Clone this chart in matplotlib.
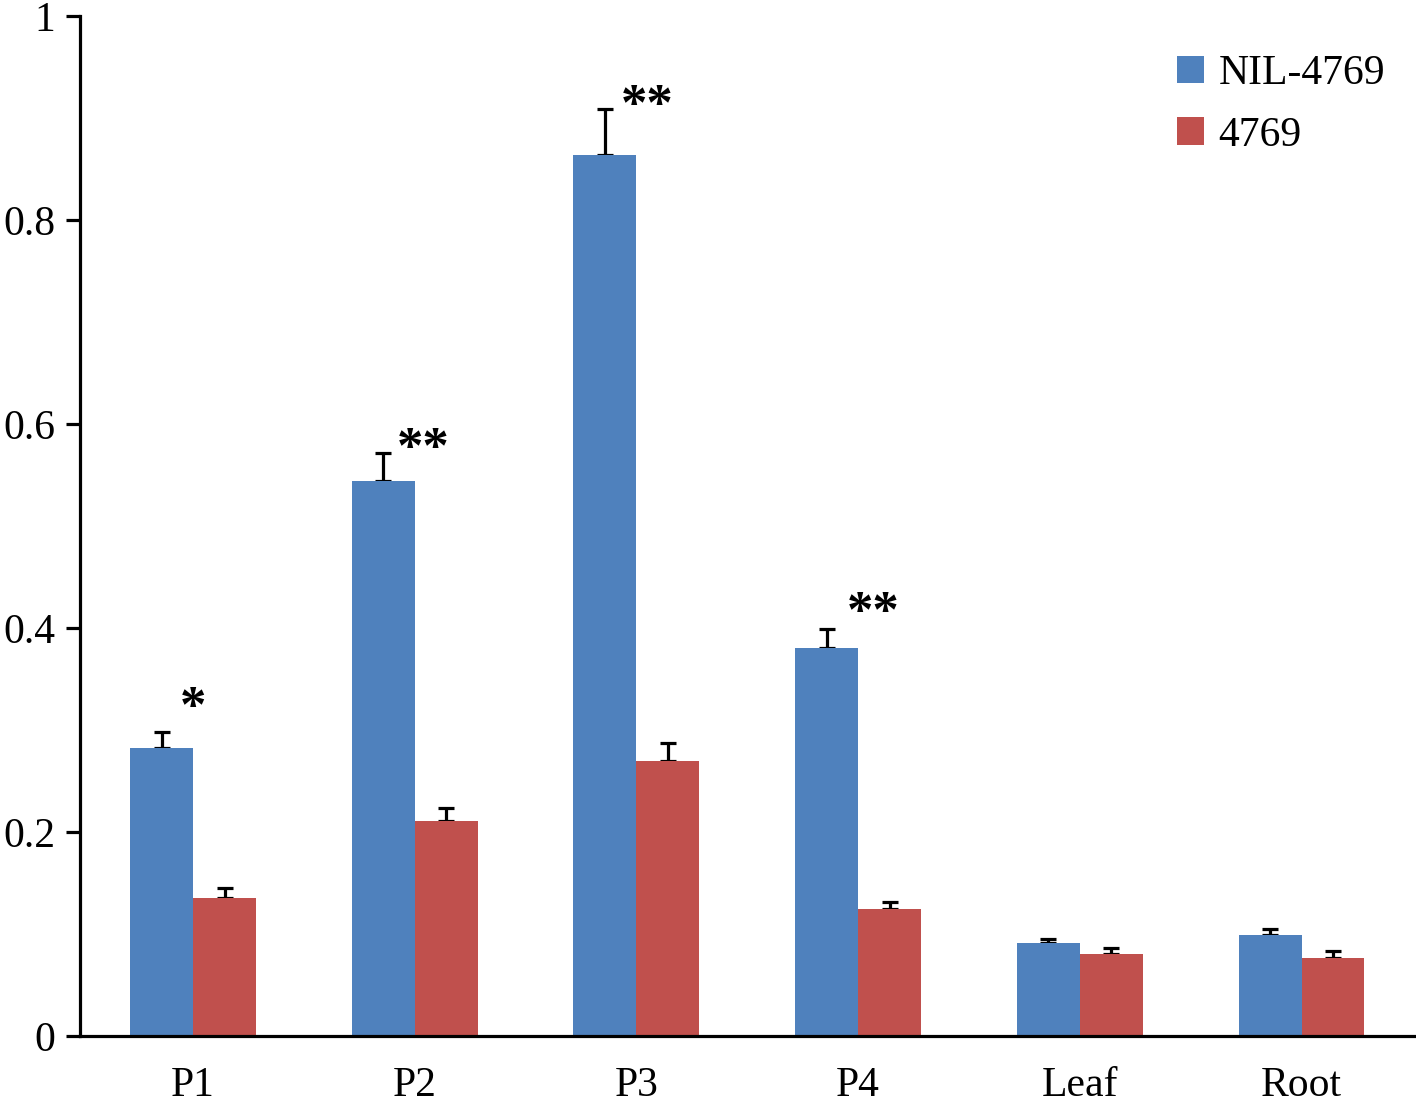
import matplotlib
matplotlib.use("Agg")
import matplotlib.pyplot as plt
import numpy as np

categories = ["P1", "P2", "P3", "P4", "Leaf", "Root"]
nil_values = [0.282, 0.544, 0.864, 0.380, 0.091, 0.099]
nil_err = [0.016, 0.028, 0.045, 0.019, 0.004, 0.006]
wt_values = [0.135, 0.211, 0.270, 0.125, 0.080, 0.077]
wt_err = [0.010, 0.013, 0.017, 0.006, 0.006, 0.006]
series_names = ["NIL-4769", "4769"]
sig_marks = ["*", "**", "**", "**", "", ""]
sig_heights = [0.321, 0.575, 0.911, 0.414, 0, 0]
yticks = [0, 0.2, 0.4, 0.6, 0.8, 1.0]
ytick_labels = ["0", "0.2", "0.4", "0.6", "0.8", "1"]

plt.rcParams['font.family'] = ['Liberation Serif', 'DejaVu Serif']

fig = plt.figure(figsize=(14.16, 11.05), dpi=100)
ax = fig.add_axes([0.0565, 0.0624, 0.9425, 0.9231])

x = np.arange(len(categories))
w = 0.284
blue = "#4F81BD"
red = "#C0504D"
ax.bar(x - w/2, nil_values, w, color=blue, label=series_names[0], zorder=2)
ax.bar(x + w/2, wt_values, w, color=red, label=series_names[1], zorder=2)
ekw = dict(fmt="none", ecolor="black", elinewidth=2.3, capsize=5.8, capthick=2.3, zorder=1)
ax.errorbar(x - w/2, nil_values, yerr=[np.zeros(len(x)), nil_err], **ekw)
ax.errorbar(x + w/2, wt_values, yerr=[np.zeros(len(x)), wt_err], **ekw)

sig_dx = [0.0, 0.036, 0.05, 0.07, 0, 0]
for i, (m, h) in enumerate(zip(sig_marks, sig_heights)):
    if m:
        ax.text(i + sig_dx[i], h, m, ha="center", va="center",
                fontsize=38, fontweight="bold")

ax.set_xlim(-0.51, 5.51)
ax.set_ylim(0, 1)
ax.set_xticks(x)
ax.set_xticklabels(categories, fontsize=30)
ax.set_yticks(yticks)
ax.set_yticklabels(ytick_labels, fontsize=30)
ax.tick_params(axis="x", length=0, pad=22)
ax.tick_params(axis="y", length=10, width=2.3, direction="out", pad=8)
for s in ["top", "right"]:
    ax.spines[s].set_visible(False)
for s in ["left", "bottom"]:
    ax.spines[s].set_linewidth(2.3)

ax.legend(loc="upper right", bbox_to_anchor=(1.006, 0.999), frameon=False, fontsize=30,
          handlelength=0.65, handleheight=0.65, handletextpad=0.35, labelspacing=0.56)

fig.savefig("out.png", dpi=100)
